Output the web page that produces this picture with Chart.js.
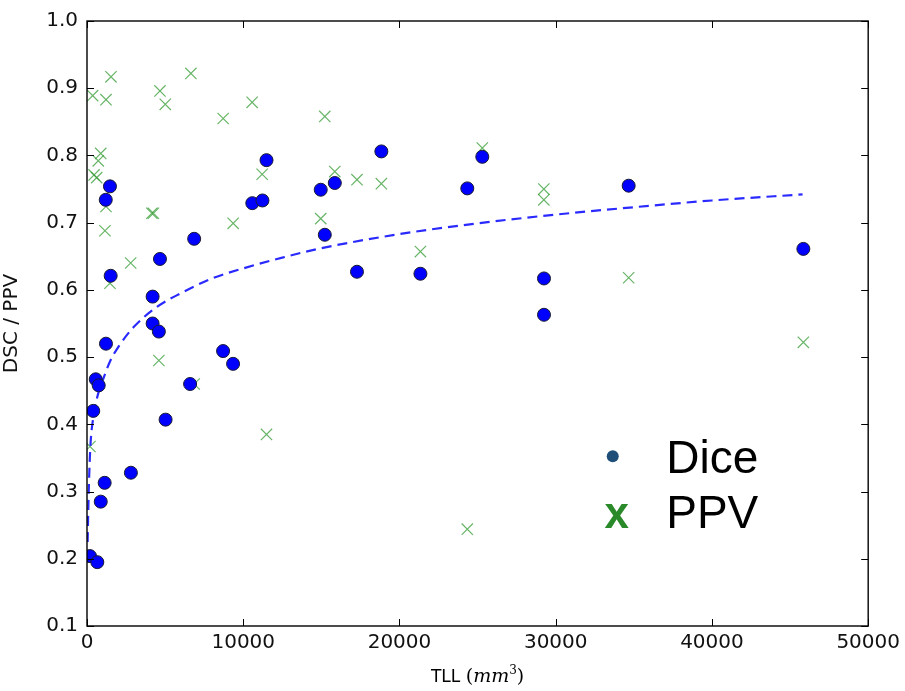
<!DOCTYPE html>
<html>
<head>
<meta charset="utf-8">
<title>DSC / PPV vs TLL</title>
<script src="https://cdn.jsdelivr.net/npm/chart.js@4.4.1/dist/chart.umd.min.js"></script>
<style>
  html, body { margin: 0; padding: 0; background: #fff; }
  #wrap { width: 905px; height: 691px; }
</style>
</head>
<body>
<div id="wrap"><canvas id="chart" width="905" height="691"></canvas></div>
<script>
// values
var diceX = [190, 660, 400, 560, 750, 880, 1130, 1215, 1200, 1470, 1515, 2810,
  4200, 4200, 4600, 4670, 5030, 6600, 6860, 8710, 9350, 10580, 11230, 11490,
  14960, 15220, 15860, 17280, 18840, 21340, 24340, 25300, 29250, 29250, 34670, 45850];
var diceY = [0.204, 0.195, 0.420, 0.467, 0.458, 0.285, 0.313, 0.520, 0.734, 0.754, 0.621, 0.328,
  0.590, 0.550, 0.538, 0.646, 0.407, 0.460, 0.676, 0.509, 0.490, 0.729, 0.733, 0.793,
  0.749, 0.682, 0.759, 0.627, 0.806, 0.624, 0.751, 0.798, 0.617, 0.563, 0.755, 0.661];

var ppvX = [360, 1215, 1535, 4670, 5010, 6650, 8715, 10570, 880, 720, 450, 620,
  1215, 11210, 1150, 4150, 4250, 9355, 2795, 1470, 4600, 6860, 11490, 190,
  15220, 15860, 17280, 18840, 14960, 21340, 25300, 29240, 29240, 34670, 45850, 24340];
var ppvY = [0.889, 0.883, 0.917, 0.896, 0.876, 0.922, 0.855, 0.879, 0.803, 0.792, 0.771, 0.767,
  0.724, 0.772, 0.688, 0.714, 0.714, 0.699, 0.640, 0.610, 0.495, 0.460, 0.385, 0.367,
  0.858, 0.776, 0.764, 0.758, 0.706, 0.657, 0.811, 0.750, 0.734, 0.618, 0.522, 0.244];

// dashed trend line
var fitX = [40, 100, 200, 400, 650, 1000, 1500, 2000, 3000, 4500, 6000, 8000,
  10000, 12500, 15000, 20000, 25000, 30000, 35000, 40000, 45800];
var fitY = [0.225, 0.29, 0.36, 0.41, 0.44, 0.465, 0.495, 0.515, 0.545, 0.575, 0.595, 0.617,
  0.632, 0.648, 0.662, 0.683, 0.699, 0.712, 0.723, 0.733, 0.742];

var xTicks = [0, 10000, 20000, 30000, 40000, 50000];
var yTicks = [0.1, 0.2, 0.3, 0.4, 0.5, 0.6, 0.7, 0.8, 0.9, 1.0];

var legendItems = ["Dice", "PPV"];
var yTitle = "DSC / PPV";

function pairs(xs, ys) {
  return xs.map(function (x, i) { return { x: x, y: ys[i] }; });
}

var tickFont = { family: "'DejaVu Sans', sans-serif", size: 20 };

// box, inward ticks, legend and x title, matplotlib style
var decor = {
  id: "decor",
  afterDatasetsDraw: function (chart) {
    var ctx = chart.ctx;
    var a = chart.chartArea;
    var sx = chart.scales.x, sy = chart.scales.y;
    var len = 7;
    ctx.save();
    ctx.strokeStyle = "#000";
    ctx.lineWidth = 1;
    ctx.beginPath();
    xTicks.forEach(function (v) {
      var px = Math.round(sx.getPixelForValue(v)) + 0.5;
      ctx.moveTo(px, a.bottom); ctx.lineTo(px, a.bottom - len);
      ctx.moveTo(px, a.top); ctx.lineTo(px, a.top + len);
    });
    yTicks.forEach(function (v) {
      var py = Math.round(sy.getPixelForValue(v)) + 0.5;
      ctx.moveTo(a.left, py); ctx.lineTo(a.left + len, py);
      ctx.moveTo(a.right, py); ctx.lineTo(a.right - len, py);
    });
    ctx.stroke();
    ctx.lineWidth = 1.4;
    ctx.strokeRect(a.left, a.top, a.right - a.left, a.bottom - a.top);

    // legend inside the plot
    var w = a.right - a.left, h = a.bottom - a.top;
    var mx = a.left + w * 0.673;
    var tx = a.left + w * 0.7415;
    var y1 = a.top + h * 0.7195;
    ctx.fillStyle = "#1f4e79";
    ctx.beginPath();
    ctx.arc(mx, y1, 6, 0, Math.PI * 2);
    ctx.fill();
    ctx.font = "46px 'Liberation Sans', Arial, sans-serif";
    ctx.textBaseline = "alphabetic";
    ctx.textAlign = "left";
    ctx.fillStyle = "#000";
    ctx.fillText(legendItems[0], tx, y1 + 17);
    ctx.fillText(legendItems[1], tx, y1 + 72);
    ctx.fillStyle = "#2a8a2a";
    ctx.textAlign = "center";
    ctx.font = "bold 44px 'Liberation Sans', Arial, sans-serif";
    ctx.fillText("x", mx + 4, y1 + 72);

    // x title: TLL (mm^3)
    var cx = (a.left + a.right) / 2;
    var by = a.bottom + 56;
    var parts = [
      ["TLL ", "17px 'DejaVu Sans', sans-serif", 0],
      ["(", "19px 'DejaVu Serif', serif", 0],
      ["mm", "italic 19px 'DejaVu Serif', serif", 0],
      ["3", "12px 'DejaVu Serif', serif", -8],
      [")", "19px 'DejaVu Serif', serif", 0]
    ];
    var total = 0;
    parts.forEach(function (p) { ctx.font = p[1]; total += ctx.measureText(p[0]).width; });
    var x = cx - total / 2;
    ctx.textAlign = "left";
    ctx.fillStyle = "#000";
    parts.forEach(function (p) {
      ctx.font = p[1];
      ctx.fillText(p[0], x, by + p[2]);
      x += ctx.measureText(p[0]).width;
    });
    ctx.restore();
  }
};

new Chart(document.getElementById("chart"), {
  type: "scatter",
  data: {
    datasets: [
      {
        label: legendItems[0],
        data: pairs(diceX, diceY),
        pointStyle: "circle",
        pointRadius: 6.5,
        backgroundColor: "#0000ff",
        borderColor: "#1a1a33",
        borderWidth: 1,
        order: 0
      },
      {
        label: "fit",
        data: pairs(fitX, fitY),
        showLine: true,
        pointRadius: 0,
        borderColor: "#2a2aff",
        borderWidth: 2.2,
        borderDash: [10, 6],
        cubicInterpolationMode: "monotone",
        fill: false,
        order: 1
      },
      {
        label: legendItems[1],
        data: pairs(ppvX, ppvY),
        pointStyle: "crossRot",
        pointRadius: 8,
        borderColor: "rgba(40,150,40,0.7)",
        borderWidth: 1.2,
        order: 2
      }
    ]
  },
  options: {
    responsive: false,
    animation: false,
    events: [],
    layout: { padding: { top: 20, right: 36, left: 0, bottom: 0 } },
    plugins: { legend: { display: false }, tooltip: { enabled: false } },
    scales: {
      x: {
        type: "linear",
        min: 0, max: 50000,
        afterBuildTicks: function (s) { s.ticks = xTicks.map(function (v) { return { value: v }; }); },
        afterFit: function (s) { s.height = 65; },
        grid: { display: false, drawTicks: false },
        border: { display: false },
        ticks: { color: "#111", font: tickFont, padding: 5, maxRotation: 0,
          callback: function (v) { return String(v); } }
      },
      y: {
        min: 0.1, max: 1.0,
        afterBuildTicks: function (s) { s.ticks = yTicks.map(function (v) { return { value: v }; }); },
        afterFit: function (s) { s.width = 87; },
        grid: { display: false, drawTicks: false },
        border: { display: false },
        title: { display: true, text: yTitle, color: "#111",
          font: { family: "'DejaVu Sans', sans-serif", size: 20 }, padding: { top: 0, bottom: 4 } },
        ticks: { color: "#111", font: tickFont, padding: 9,
          callback: function (v) { return Number(v).toFixed(1); } }
      }
    }
  },
  plugins: [decor]
});
</script>
</body>
</html>
